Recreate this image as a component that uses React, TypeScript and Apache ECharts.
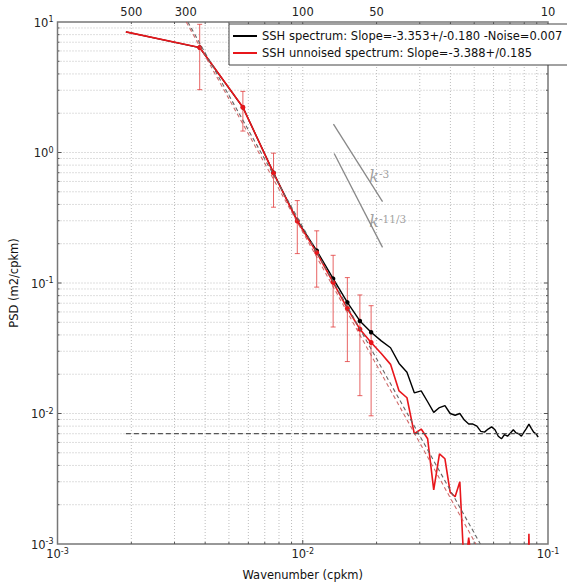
import React, { useEffect, useRef } from "react";
import * as echarts from "echarts";

// Wavenumber bins (cpkm)
const kBins = [
  0.0019, 0.0038, 0.0057, 0.0076, 0.0095, 0.0114, 0.0133, 0.0152, 0.0171, 0.019,
  0.0209, 0.0228, 0.0247, 0.0266, 0.0285, 0.0304, 0.0323, 0.0342, 0.0361, 0.038,
  0.0399, 0.0418, 0.0437, 0.0456, 0.0475, 0.0494, 0.0513, 0.0532, 0.0551, 0.057,
  0.0589, 0.0608, 0.0627, 0.0646, 0.0665, 0.0684, 0.0703, 0.0722, 0.0741, 0.076,
  0.0779, 0.0798, 0.0817, 0.0836, 0.0855, 0.0874, 0.0893, 0.0912,
];

// SSH spectrum (noisy)
const psdSpectrum = [
  8.4, 6.37, 2.22, 0.7, 0.3, 0.177, 0.108, 0.0711, 0.0512, 0.0419,
  0.036, 0.0319, 0.0242, 0.0207, 0.0144, 0.0149, 0.0123, 0.0102, 0.0111, 0.0115,
  0.01, 0.0097, 0.01, 0.0089, 0.0083, 0.0083, 0.008, 0.0073, 0.0072, 0.0076,
  0.0079, 0.0075, 0.0067, 0.0064, 0.0069, 0.0067, 0.0071, 0.0075, 0.0071, 0.007,
  0.0067, 0.0072, 0.0077, 0.0083, 0.0077, 0.0072, 0.007, 0.0066,
];

// SSH unnoised spectrum (null = not positive, not drawn on log axis)
const psdUnnoised: (number | null)[] = [
  8.4, 6.37, 2.22, 0.695, 0.298, 0.171, 0.101, 0.0638, 0.0443, 0.035,
  0.0288, 0.0238, 0.0149, 0.0132, 0.007, 0.0076, 0.0064, 0.0026, 0.0049, 0.0045,
  0.0025, 0.0023, 0.003, 0.0006, 0.00112, 0.0006, null, null, null, null,
  null, null, null, null, null, null, null, null, null, null,
  null, null, 0.0001, 0.0012, 0.0001, null, null, null,
];

// Error bars on the unnoised spectrum (bins 2..10)
const errK = [0.0038, 0.0057, 0.0076, 0.0095, 0.0114, 0.0133, 0.0152, 0.0171, 0.019];
const errLow = [3.03, 1.46, 0.381, 0.168, 0.093, 0.046, 0.025, 0.0137, 0.0096];
const errHigh = [9.6, 2.94, 0.988, 0.428, 0.251, 0.163, 0.11, 0.081, 0.067];

// Fitted slopes (dashed)
const fitSpectrum = [[0.0034, 10], [0.053, 0.001]];
const fitUnnoised = [[0.00335, 10], [0.0508, 0.001]];
const noiseLevel = [[0.0019, 0.007], [0.0912, 0.007]];

// Reference slopes
const refK3 = [[0.01334, 1.652], [0.02115, 0.421]];
const refK113 = [[0.01343, 0.983], [0.02115, 0.1875]];
const refLabels = [
  { k: 0.0186, p: 0.66, sup: "-3" },
  { k: 0.0186, p: 0.295, sup: "-11/3" },
];

// Top axis: wavelength (km)
const topWavelengths = [500, 300, 100, 50, 10];

const nameSpectrum = "SSH spectrum: Slope=-3.353+/-0.180 -Noise=0.007";
const nameUnnoised = "SSH unnoised spectrum: Slope=-3.388+/0.185";

const RED = "#e8161b";
const FONT = "DejaVu Sans";

function decadeGrid(decades: number[]) {
  const out: number[][] = [];
  decades.forEach((d, i) => {
    for (let m = 1; m <= 9; m++) {
      if (i === 0 && m === 1) continue;
      out.push([m * d, m === 1 ? 1 : 0]);
    }
  });
  return out;
}

export default function App() {
  const ref = useRef<HTMLDivElement>(null);
  useEffect(() => {
    const chart = echarts.init(ref.current!, undefined, { renderer: "svg" });

    const xGrid = decadeGrid([0.001, 0.01]).map(([v, maj]) => [v, 1, maj]);
    const yGrid = decadeGrid([0.001, 0.01, 0.1, 1]).map(([v, maj]) => [0.01, v, maj]);

    const supRich = {
      b: { fontSize: 11.5, fontFamily: FONT, color: "#222", lineHeight: 13, padding: [5, 0, 0, 0], verticalAlign: "bottom" },
      s: { fontSize: 8, fontFamily: FONT, color: "#222", lineHeight: 9, verticalAlign: "top" },
    };
    const powLabel = (v: number) => `{b|10}{s|${Math.round(Math.log10(v))}}`;

    const gridStyle = { stroke: "#bdbdbd", lineWidth: 1, lineDash: [1, 2] };
    const tickStyle = { stroke: "#555", lineWidth: 1 };

    const option: any = {
      animation: false,
      backgroundColor: "#fff",
      grid: {
        left: 48, right: 19, top: 22, bottom: 33,
        show: true, borderColor: "#777", borderWidth: 1.5, backgroundColor: "transparent",
      },
      legend: {
        left: 229, top: 24, orient: "vertical",
        data: [nameSpectrum, nameUnnoised],
        icon: "rect", itemWidth: 24, itemHeight: 2, itemGap: 3,
        backgroundColor: "#fff", borderColor: "#444", borderWidth: 1,
        padding: [5, 6, 5, 4],
        textStyle: { fontSize: 11.5, fontFamily: FONT, color: "#111", lineHeight: 14 },
      },
      xAxis: [
        {
          type: "log", logBase: 10, min: 0.001, max: 0.1, position: "bottom",
          name: "Wavenumber (cpkm)", nameLocation: "middle", nameGap: 25,
          nameTextStyle: { fontSize: 11.5, fontFamily: FONT, color: "#111" },
          axisLine: { show: false }, axisTick: { show: false }, splitLine: { show: false },
          axisLabel: { margin: 3, formatter: powLabel, rich: supRich, showMinLabel: true, showMaxLabel: true },
        },
        {
          type: "value", min: -3, max: -1, position: "top",
          axisLine: { show: false }, axisTick: { show: false }, splitLine: { show: false },
          axisLabel: {
            margin: 4, fontSize: 11.5, fontFamily: FONT, color: "#222",
            customValues: topWavelengths.map((w) => Math.log10(1 / w)),
            formatter: (v: number) => String(Math.round(1 / Math.pow(10, v))),
            showMinLabel: true, showMaxLabel: true,
          },
        },
      ],
      yAxis: [
        {
          type: "log", logBase: 10, min: 0.001, max: 10,
          name: "PSD (m2/cpkm)", nameLocation: "middle", nameGap: 23, nameRotate: 90,
          nameTextStyle: { fontSize: 11.5, fontFamily: FONT, color: "#111" },
          axisLine: { show: false }, axisTick: { show: false }, splitLine: { show: false },
          axisLabel: { margin: 4, formatter: powLabel, rich: supRich, showMinLabel: true, showMaxLabel: true },
        },
      ],
      series: [
        {
          type: "custom", name: "xgrid", silent: true, z: 0, clip: false,
          data: xGrid,
          renderItem: (params: any, api: any) => {
            const cs = params.coordSys;
            const x = api.coord([api.value(0), 1])[0];
            const tl = api.value(2) === 1 ? 4 : 2;
            return {
              type: "group",
              children: [
                { type: "line", shape: { x1: x, y1: cs.y, x2: x, y2: cs.y + cs.height }, style: gridStyle },
                { type: "line", shape: { x1: x, y1: cs.y, x2: x, y2: cs.y + tl }, style: tickStyle },
                { type: "line", shape: { x1: x, y1: cs.y + cs.height - tl, x2: x, y2: cs.y + cs.height }, style: tickStyle },
              ],
            };
          },
        },
        {
          type: "custom", name: "ygrid", silent: true, z: 0, clip: false,
          data: yGrid,
          renderItem: (params: any, api: any) => {
            const cs = params.coordSys;
            const y = api.coord([0.01, api.value(1)])[1];
            const tl = api.value(2) === 1 ? 4 : 2;
            return {
              type: "group",
              children: [
                { type: "line", shape: { x1: cs.x, y1: y, x2: cs.x + cs.width, y2: y }, style: gridStyle },
                { type: "line", shape: { x1: cs.x, y1: y, x2: cs.x + tl, y2: y }, style: tickStyle },
                { type: "line", shape: { x1: cs.x + cs.width - tl, y1: y, x2: cs.x + cs.width, y2: y }, style: tickStyle },
              ],
            };
          },
        },
        {
          type: "custom", name: "errorbars", silent: true, z: 2,
          data: errK.map((k, i) => [k, errLow[i], errHigh[i]]),
          renderItem: (params: any, api: any) => {
            const k = api.value(0);
            const lo = api.coord([k, api.value(1)]);
            const hi = api.coord([k, api.value(2)]);
            const st = { stroke: "rgba(225,60,60,0.8)", lineWidth: 1 };
            return {
              type: "group",
              children: [
                { type: "line", shape: { x1: lo[0], y1: lo[1], x2: hi[0], y2: hi[1] }, style: st },
                { type: "line", shape: { x1: lo[0] - 2.5, y1: lo[1], x2: lo[0] + 2.5, y2: lo[1] }, style: st },
                { type: "line", shape: { x1: hi[0] - 2.5, y1: hi[1], x2: hi[0] + 2.5, y2: hi[1] }, style: st },
              ],
            };
          },
        },
        {
          type: "line", name: nameSpectrum, z: 3,
          data: kBins.map((k, i) => [k, psdSpectrum[i]]),
          color: "#000",
          lineStyle: { color: "#000", width: 1.4 },
          itemStyle: { color: "#000" },
          symbol: (_v: any, p: any) => (p.dataIndex >= 1 && p.dataIndex <= 9 ? "circle" : "none"),
          symbolSize: 4.5, showSymbol: true,
        },
        {
          type: "line", name: nameUnnoised, z: 4,
          data: kBins.map((k, i) => [k, psdUnnoised[i] === null ? "-" : psdUnnoised[i]]),
          color: RED,
          lineStyle: { color: RED, width: 1.6 },
          itemStyle: { color: RED },
          symbol: (_v: any, p: any) => (p.dataIndex >= 1 && p.dataIndex <= 9 ? "circle" : "none"),
          symbolSize: 5, showSymbol: true, connectNulls: false,
        },
        {
          type: "line", name: "fit1", z: 5, silent: true, symbol: "none",
          data: fitSpectrum,
          lineStyle: { color: "#666", width: 1.1, type: [4, 3] },
        },
        {
          type: "line", name: "fit2", z: 5, silent: true, symbol: "none",
          data: fitUnnoised,
          lineStyle: { color: "rgba(200,80,80,0.85)", width: 1.1, type: [4, 3] },
        },
        {
          type: "line", name: "noise", z: 5, silent: true, symbol: "none",
          data: noiseLevel,
          lineStyle: { color: "#555", width: 1.2, type: [5, 3] },
        },
        {
          type: "line", name: "k3", z: 5, silent: true, symbol: "none",
          data: refK3, lineStyle: { color: "#888", width: 1.3 },
        },
        {
          type: "line", name: "k113", z: 5, silent: true, symbol: "none",
          data: refK113, lineStyle: { color: "#888", width: 1.3 },
        },
        {
          type: "scatter", name: "klabels", z: 6, silent: true,
          symbol: "circle", symbolSize: 1, itemStyle: { color: "rgba(0,0,0,0)" },
          data: refLabels.map((r) => ({ value: [r.k, r.p], sup: r.sup })),
          label: {
            show: true, position: "right", distance: 0, color: "#888",
            formatter: (p: any) => `{k|k}{s|${p.data.sup}}`,
            rich: {
              k: { fontSize: 16, fontFamily: "DejaVu Serif", fontStyle: "italic", color: "#888", lineHeight: 16, padding: [6, 0, 0, 0], verticalAlign: "bottom" },
              s: { fontSize: 10.5, fontFamily: "DejaVu Serif", color: "#888", lineHeight: 12, verticalAlign: "top" },
            },
          },
        },
      ],
    };
    chart.setOption(option);
    return () => chart.dispose();
  }, []);
  return (
    <div
      ref={ref}
      style={{ position: "absolute", left: 0, top: 0, width: 567, height: 586, background: "#fff" }}
    />
  );
}
